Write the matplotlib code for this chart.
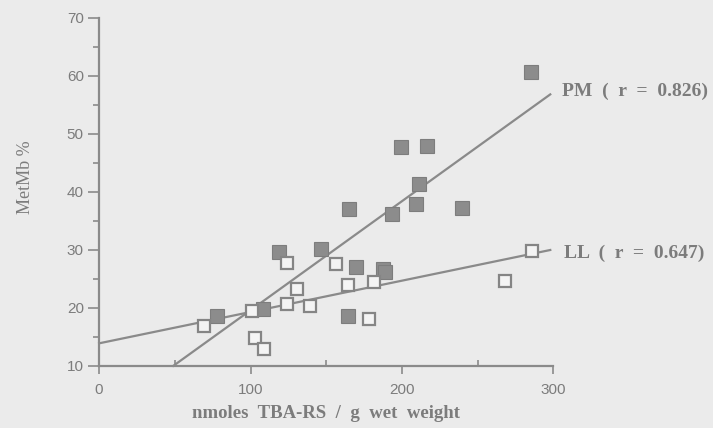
import matplotlib
matplotlib.use('Agg')
import matplotlib.pyplot as plt
from matplotlib.ticker import MultipleLocator
import numpy as np

# ─── 数据 ───
pm_x = [77.8, 108.2, 118.5, 146.5, 164.6, 165.0, 169.6, 187.5, 188.6,
        193.7, 199.4, 209.0, 211.0, 216.6, 240.0, 285.3]
pm_y = [18.6, 19.8, 29.7, 30.2, 18.6, 37.0, 27.1, 26.7, 26.2,
        36.2, 47.7, 37.9, 41.4, 48.0, 37.3, 60.6]

ll_x = [69.0, 100.9, 103.1, 108.6, 124.0, 124.0, 130.6, 139.5, 156.4,
        164.3, 178.4, 181.8, 267.9, 286.0]
ll_y = [16.9, 19.5, 14.8, 13.0, 27.7, 20.7, 23.2, 20.3, 27.5,
        24.0, 18.1, 24.5, 24.7, 29.9]

# 回归线: 截距, 斜率, x 范围
pm_fit = (0.8, 0.188)
pm_range = (49.0, 298.0)
ll_fit = (13.9, 0.054)
ll_range = (0.0, 298.0)

pm_label = "PM  (  r  =  0.826)"
ll_label = "LL  (  r  =  0.647)"
x_title = "nmoles  TBA-RS  /  g  wet  weight"
y_title = "MetMb %"

# ─── 颜色 ───
BG = '#ebebeb'
INK = '#7c7c7c'
LINE = '#8a8a8a'
FILL = '#8c8c8c'

fig = plt.figure(figsize=(7.13, 4.28), dpi=100, facecolor=BG)
ax = fig.add_axes([0.139, 0.145, 0.637, 0.813])
ax.set_facecolor(BG)

# 回归线
for (b, m), (x0, x1) in ((pm_fit, pm_range), (ll_fit, ll_range)):
    xs = np.array([x0, x1])
    ax.plot(xs, b + m * xs, color=LINE, linewidth=1.6, zorder=2,
            clip_on=False)

# 散点
ax.plot(pm_x, pm_y, 's', markersize=10, markerfacecolor=FILL,
        markeredgecolor='#7d7d7d', markeredgewidth=0.8, zorder=3,
        clip_on=False)
ax.plot(ll_x, ll_y, 's', markersize=8.5, markerfacecolor='#f4f4f4',
        markeredgecolor='#858585', markeredgewidth=1.6, zorder=3,
        clip_on=False)

# 标签
serif = ['Liberation Serif', 'DejaVu Serif']
ax.text(305.5, pm_fit[0] + pm_fit[1] * pm_range[1] + 0.5, pm_label,
        family=serif, fontsize=14, fontweight='bold', color=INK,
        ha='left', va='center')
ax.text(307, ll_fit[0] + ll_fit[1] * ll_range[1] - 0.5, ll_label,
        family=serif, fontsize=14, fontweight='bold', color=INK,
        ha='left', va='center')

ax.set_xlim(0, 300)
ax.set_ylim(10, 70)
ax.spines['top'].set_visible(False)
ax.spines['right'].set_visible(False)
for s in ('left', 'bottom'):
    ax.spines[s].set_color(LINE)
    ax.spines[s].set_linewidth(1.6)

ax.xaxis.set_major_locator(MultipleLocator(100))
ax.xaxis.set_minor_locator(MultipleLocator(50))
ax.yaxis.set_major_locator(MultipleLocator(10))
ax.yaxis.set_minor_locator(MultipleLocator(5))
ax.tick_params(axis='x', which='major', direction='out', length=6,
               width=1.2, color=LINE, labelcolor=INK, labelsize=11, pad=6)
ax.tick_params(axis='x', which='minor', direction='in', length=4,
               width=1.2, color=LINE)
ax.tick_params(axis='y', which='major', direction='out', length=8,
               width=1.2, color=LINE, labelcolor=INK, labelsize=11, pad=3)
ax.tick_params(axis='y', which='minor', direction='out', length=4,
               width=1.2, color=LINE)
for lab in ax.get_xticklabels() + ax.get_yticklabels():
    lab.set_family(['Liberation Sans', 'DejaVu Sans'])

ax.set_xlabel(x_title, family=serif, fontsize=13.5,
              fontweight='bold', color=INK)
ax.set_ylabel(y_title, family=serif, fontsize=13, color=INK)
ax.xaxis.set_label_coords(0.5, -0.112)
ax.yaxis.set_label_coords(-0.143, 0.543)

fig.savefig('out.png', dpi=100, facecolor=BG)
